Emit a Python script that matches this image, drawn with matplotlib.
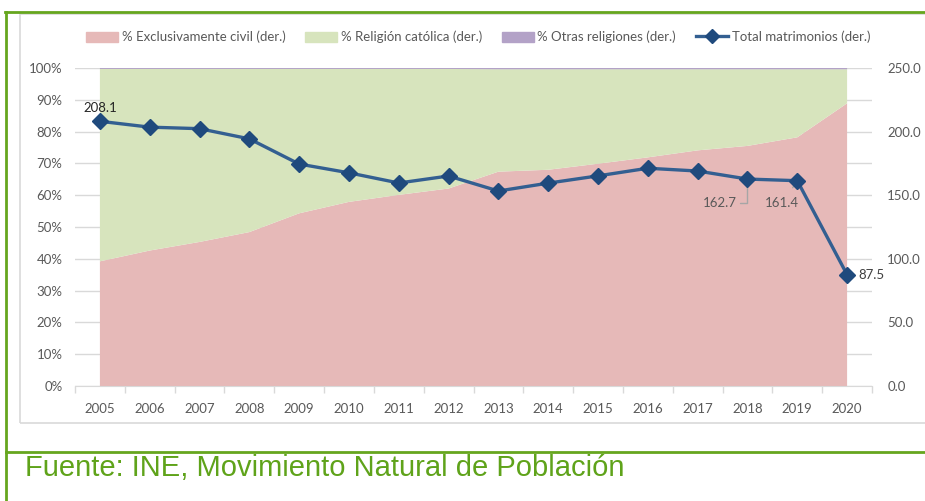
import matplotlib.pyplot as plt
import numpy as np
from matplotlib.patches import Patch, Rectangle
from matplotlib.lines import Line2D

# Data
years = np.arange(2005, 2021)
civil = np.array([39.2, 42.6, 45.3, 48.4, 54.3, 57.9, 60.1, 62.1, 67.4, 68.0,
                  69.9, 71.9, 74.1, 75.5, 78.2, 88.9]) / 100
otras = np.array([0.3, 0.3, 0.3, 0.3, 0.3, 0.3, 0.3, 0.3, 0.4, 0.4,
                  0.4, 0.4, 0.4, 0.4, 0.4, 0.4]) / 100
catolica = 1 - civil - otras
total = np.array([208.1, 203.5, 202.3, 194.3, 174.5, 167.6, 159.6, 165.1, 153.3, 159.5,
                  165.2, 171.2, 169.0, 162.7, 161.4, 87.5])

legend_labels = ["% Exclusivamente civil (der.)", "% Religión católica (der.)",
                 "% Otras religiones (der.)", "Total matrimonios (der.)"]
source = "Fuente: INE, Movimiento Natural de Población"

c_civil = "#E6B9B8"
c_cat = "#D7E4BD"
c_otras = "#B3A2C7"
c_line = "#335F91"
c_mark = "#1F4A7D"
c_text = "#595959"
c_grid = "#D9D9D9"
c_green = "#66A61E"

plt.rcParams["font.family"] = ["Lato", "DejaVu Sans"]

fig = plt.figure(figsize=(9.25, 5.01), dpi=100)
W, H = 925, 501

# frames
fig.add_artist(Rectangle((20 / W, 1 - 423 / H), 1.1, (423 - 14) / H, transform=fig.transFigure,
                         fill=False, edgecolor=c_grid, linewidth=1.2))
fig.add_artist(Line2D([6 / W, 6 / W], [0, 1 - 12 / H], transform=fig.transFigure, color=c_green, lw=2))
fig.add_artist(Line2D([5 / W, 1], [1 - 12 / H, 1 - 12 / H], transform=fig.transFigure, color=c_green, lw=2))
fig.add_artist(Line2D([6 / W, 1], [1 - 452 / H, 1 - 452 / H], transform=fig.transFigure, color=c_green, lw=2))

ax = fig.add_axes([75 / W, 115 / H, 797 / W, 318 / H])
ax.stackplot(years, civil, catolica, otras, colors=[c_civil, c_cat, c_otras], zorder=2)
ax.set_xlim(2004.5, 2020.5)
ax.set_ylim(0, 1)
ax.set_yticks(np.arange(0, 1.01, 0.1))
ax.set_yticklabels([f"{int(round(v * 100))}%" for v in np.arange(0, 1.01, 0.1)])
ax.set_axisbelow(True)
ax.grid(axis="y", color=c_grid, linewidth=1)
ax.set_xticks(years)
ax.set_xticks(np.arange(2004.5, 2021, 1), minor=True)
ax.tick_params(axis="x", which="major", length=0, pad=12, labelsize=9.5, labelcolor=c_text)
ax.tick_params(axis="x", which="minor", length=5, color=c_grid, width=1)
ax.tick_params(axis="y", length=0, pad=9, labelsize=9.5, labelcolor=c_text)
for s in ["top", "left", "right"]:
    ax.spines[s].set_visible(False)
ax.spines["bottom"].set_color(c_grid)
ax.spines["bottom"].set_zorder(3)

ax2 = ax.twinx()
ax2.plot(years, total, color=c_line, lw=2.4, marker="D", markersize=8.5,
         markerfacecolor=c_mark, markeredgecolor=c_mark, zorder=5)
ax2.set_ylim(0, 250)
ax2.set_yticks(np.arange(0, 251, 50))
ax2.set_yticklabels([f"{v:.1f}" for v in np.arange(0, 251, 50)])
ax2.tick_params(axis="y", length=0, pad=11, labelsize=9.5, labelcolor=c_text)
for s in ["top", "left", "right", "bottom"]:
    ax2.spines[s].set_visible(False)

# data labels
ax2.annotate(f"{total[0]:.1f}", (years[0], total[0]), xytext=(0, 5), textcoords="offset points",
             ha="center", va="bottom", fontsize=9.5, color="#262626")
ax2.annotate(f"{total[13]:.1f}", (years[13], total[13]), xytext=(2017.45, 143.5),
             ha="center", va="center", fontsize=9.5, color=c_text,
             arrowprops=dict(arrowstyle="-", color="#A6A6A6", lw=1, shrinkA=0, shrinkB=5,
                             connectionstyle="angle,angleA=0,angleB=90,rad=0"))
ax2.annotate(f"{total[14]:.1f}", (years[14], total[14]), xytext=(2018.7, 143.5),
             ha="center", va="center", fontsize=9.5, color=c_text,
             arrowprops=dict(arrowstyle="-", color="#A6A6A6", lw=1, shrinkA=6, shrinkB=5))
ax2.annotate(f"{total[15]:.1f}", (years[15], total[15]), xytext=(8, 0), textcoords="offset points",
             ha="left", va="center", fontsize=9.5, color="#404040")

handles = [Patch(color=c_civil), Patch(color=c_cat), Patch(color=c_otras),
           Line2D([], [], color=c_line, lw=2.4, marker="D", markersize=7,
                  markerfacecolor=c_mark, markeredgecolor=c_mark)]
fig.legend(handles, legend_labels, loc="center", bbox_to_anchor=(478 / W, 1 - 37 / H), ncol=4,
           frameon=False, fontsize=9.5, labelcolor=c_text, handlelength=2.4, handleheight=0.8,
           handletextpad=0.3, columnspacing=1.5)

fig.text(25 / W, 1 - 468 / H, source, ha="left", va="center", color="#5FA31A", fontsize=21,
         family=["Liberation Sans Narrow", "Liberation Sans", "DejaVu Sans"])

fig.savefig("out.png", dpi=100)
